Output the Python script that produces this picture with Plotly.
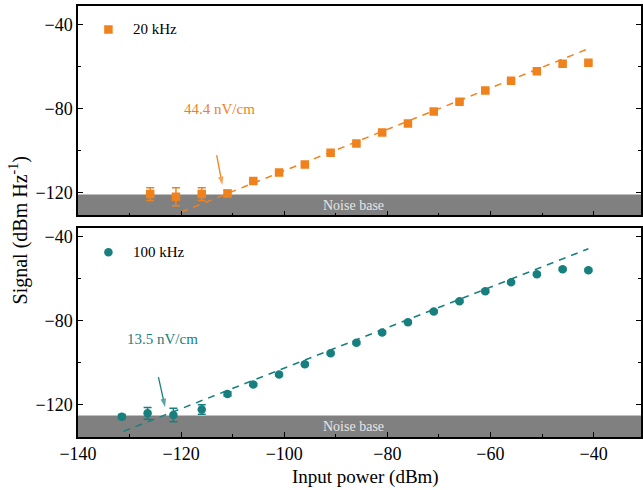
import plotly.graph_objects as go
from plotly.subplots import make_subplots

# ---- data ----
top_x = [-126, -121, -116, -111, -106, -101, -96, -91, -86, -81, -76, -71, -66, -61, -56, -51, -46, -41]
top_y = [-120.8, -122.1, -120.8, -120.5, -114.6, -110.5, -106.7, -101.0, -96.7, -91.4, -87.1,
         -81.4, -76.7, -71.4, -66.7, -62.2, -58.6, -58.1]
top_err = [3.0, 4.3, 3.0, 1.5, 0.8, 0.6, 0.6, 0.6, 0.6, 0.6, 0.6, 0.6, 0.6, 0.6, 0.6, 0.6, 0.8, 0.6]

bot_x = [-131.5, -126.5, -121.5, -116, -111, -106, -101, -96, -91, -86, -81, -76, -71, -66,
         -61, -56, -51, -46, -41]
bot_y = [-125.9, -124.3, -125.1, -122.5, -115.1, -110.6, -105.8, -100.9, -95.7, -90.7, -85.8,
         -80.9, -75.8, -70.9, -66.1, -61.9, -58.1, -55.7, -56.1]
bot_err = [1.0, 2.8, 3.2, 2.3, 1.0, 0.6, 0.6, 0.6, 0.6, 0.6, 0.6, 0.6, 0.6, 0.6, 0.6, 0.6, 0.6, 0.6, 0.6]

fit_top_x = [-120, -41]
fit_top_y = [-129.4, -51.4]
fit_bot_x = [-131.2, -41]
fit_bot_y = [-132.9, -45.9]

arrow_top_x = [-113.1, -112.0]
arrow_top_y = [-102.2, -116.5]
arrow_bot_x = [-124.4, -123.1]
arrow_bot_y = [-107.1, -121.4]

noise_top = -121
noise_bot = -125.4

xrange_ = [-140, -30.8]
yrange_top = [-131, -31]
yrange_bot = [-135.6, -35.8]

orange = "#F0821E"
teal = "#17807F"
font_family = "Liberation Serif"

fig = make_subplots(rows=2, cols=1, shared_xaxes=False, vertical_spacing=0.028)

fig.add_trace(go.Scatter(x=fit_top_x, y=fit_top_y, mode="lines",
                         line=dict(color=orange, width=1.5, dash="7px,6px"), showlegend=False),
              row=1, col=1)
fig.add_trace(go.Scatter(x=top_x, y=top_y, mode="markers",
                         marker=dict(symbol="square", size=8.5, color=orange),
                         error_y=dict(type="data", array=top_err, color=orange, thickness=1.5, width=4),
                         showlegend=False), row=1, col=1)

fig.add_trace(go.Scatter(x=fit_bot_x, y=fit_bot_y, mode="lines",
                         line=dict(color=teal, width=1.5, dash="7px,6px"), showlegend=False),
              row=2, col=1)
fig.add_trace(go.Scatter(x=bot_x, y=bot_y, mode="markers",
                         marker=dict(symbol="circle", size=8.5, color=teal),
                         error_y=dict(type="data", array=bot_err, color=teal, thickness=1.5, width=4),
                         showlegend=False), row=2, col=1)

# arrows (line + arrowhead marker)
fig.add_trace(go.Scatter(x=arrow_top_x, y=arrow_top_y, mode="lines+markers",
                         line=dict(color=orange, width=1.3),
                         marker=dict(symbol=["circle", "arrow"], size=[0, 9], angleref="previous",
                                     color=orange, line_width=0),
                         showlegend=False), row=1, col=1)
fig.add_trace(go.Scatter(x=arrow_bot_x, y=arrow_bot_y, mode="lines+markers",
                         line=dict(color=teal, width=1.3),
                         marker=dict(symbol=["circle", "arrow"], size=[0, 9], angleref="previous",
                                     color=teal, line_width=0),
                         showlegend=False), row=2, col=1)

# noise bands
fig.add_shape(type="rect", xref="x domain", yref="y", x0=0, x1=1, y0=yrange_top[0], y1=noise_top,
              fillcolor="#808080", line_width=0, layer="below")
fig.add_shape(type="rect", xref="x2 domain", yref="y2", x0=0, x1=1, y0=yrange_bot[0], y1=noise_bot,
              fillcolor="#808080", line_width=0, layer="below")

axis_common = dict(showline=True, linecolor="black", linewidth=1.5, ticks="inside", ticklen=5,
                   tickwidth=1.2, tickcolor="black", showgrid=False, zeroline=False, automargin=False,
                   tickfont=dict(family=font_family, size=18, color="black"))

for r in (1, 2):
    fig.update_xaxes(range=xrange_, dtick=20, tick0=-140, mirror=True,
                     minor=dict(ticks="inside", ticklen=3, dtick=10, tickcolor="black"),
                     showticklabels=(r == 2), row=r, col=1, **axis_common)
fig.update_yaxes(range=yrange_top, dtick=40, tick0=-120, mirror="ticks",
                 minor=dict(ticks="inside", ticklen=3, dtick=20, tickcolor="black"),
                 row=1, col=1, **axis_common)
fig.update_yaxes(range=yrange_bot, dtick=40, tick0=-120, mirror="ticks",
                 minor=dict(ticks="inside", ticklen=3, dtick=20, tickcolor="black"),
                 row=2, col=1, **axis_common)

annotations = [
    dict(x=-86.6, y=-126.2, xref="x", yref="y", text="Noise base", showarrow=False,
         font=dict(family=font_family, size=14, color="#E6E6E6")),
    dict(x=-86.6, y=-130.6, xref="x2", yref="y2", text="Noise base", showarrow=False,
         font=dict(family=font_family, size=14, color="#E6E6E6")),
    dict(x=-112.5, y=-80, xref="x", yref="y", text="44.4 nV/cm", showarrow=False,
         font=dict(family=font_family, size=15, color=orange)),
    dict(x=-123.7, y=-88.7, xref="x2", yref="y2", text="13.5 nV/cm", showarrow=False,
         font=dict(family=font_family, size=15, color=teal)),
    dict(x=-129.8, y=-42.2, xref="x", yref="y", text="20 kHz", showarrow=False, xanchor="left",
         font=dict(family=font_family, size=15, color="black")),
    dict(x=-129.8, y=-47.6, xref="x2", yref="y2", text="100 kHz", showarrow=False, xanchor="left",
         font=dict(family=font_family, size=15, color="black")),
    dict(x=-0.106, y=0.48, xref="paper", yref="paper", xanchor="center", yanchor="middle",
         text="Signal (dBm Hz<sup>-1</sup>)",
         showarrow=False, textangle=-90, font=dict(family=font_family, size=20, color="black")),
    dict(x=0.511, y=-0.093, xref="paper", yref="paper", xanchor="center", yanchor="middle",
         text="Input power (dBm)",
         showarrow=False, font=dict(family=font_family, size=19, color="black")),
]

fig.add_trace(go.Scatter(x=[-134.1], y=[-42.2], mode="markers",
                         marker=dict(symbol="square", size=8.5, color=orange), showlegend=False),
              row=1, col=1)
fig.add_trace(go.Scatter(x=[-134.1], y=[-47.6], mode="markers",
                         marker=dict(symbol="circle", size=8.5, color=teal), showlegend=False),
              row=2, col=1)

fig.update_layout(width=643, height=490, margin=dict(l=78, r=2, t=6, b=53, autoexpand=False),
                  plot_bgcolor="white", paper_bgcolor="white", annotations=annotations,
                  font=dict(family=font_family), showlegend=False)

fig.write_html("out.html", config={"displayModeBar": False},
               post_script="document.body.style.margin='0px';")
